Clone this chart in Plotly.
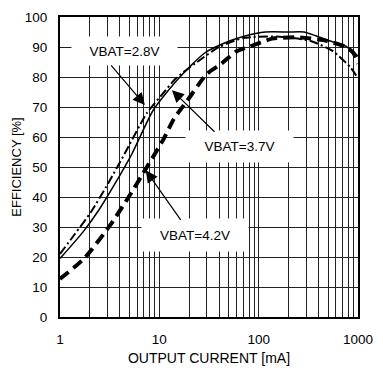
import math
import plotly.graph_objects as go

# ---- data ----
i_37 = [1, 1.7, 2.5, 3.6, 5.3, 8.7, 15.6, 28.6, 50, 70, 117, 200, 286, 524, 760, 1000]
e_37 = [19.5, 28.3, 36, 44.6, 54.4, 69, 79.5, 88, 91.9, 93.5, 95, 95, 95, 92, 90.2, 87]

i_28 = [1, 1.4, 2.04, 3.06, 4.47, 7.5, 11.2, 14.6, 22.9, 40, 70, 150, 333, 560, 850, 1000]
e_28 = [21, 27.5, 34.9, 44.6, 54.4, 68, 75, 79.5, 84.5, 90, 93, 93.5, 92, 88.6, 83, 79.5]

i_42 = [1, 1.75, 3.2, 5, 7.5, 10.9, 14, 19, 30, 42, 60, 82, 137, 250, 450, 760, 900, 1000]
e_42 = [12.7, 19.5, 30.6, 40.4, 50, 59, 66, 72, 81, 84.4, 88.6, 90.2, 92.8, 93.2, 92.3, 90, 88, 84.4]

x_tickvals = [m * 10 ** d for d in range(3) for m in range(1, 10)] + [1000]
x_ticktext = [str(v) if v in (1, 10, 100, 1000) else "" for v in x_tickvals]
y_tickvals = list(range(0, 101, 10))

labels = ["VBAT=2.8V", "VBAT=3.7V", "VBAT=4.2V"]

FONT = "Liberation Sans, Arial, sans-serif"

fig = go.Figure()
fig.add_trace(go.Scatter(x=i_37, y=e_37, mode="lines",
                         line=dict(color="black", width=1.5, shape="spline", smoothing=0.6),
                         showlegend=False))
fig.add_trace(go.Scatter(x=i_28, y=e_28, mode="lines",
                         line=dict(color="black", width=2, dash="9px,3px,2px,3px",
                                   shape="spline", smoothing=0.6),
                         showlegend=False))
fig.add_trace(go.Scatter(x=i_42, y=e_42, mode="lines",
                         line=dict(color="black", width=4, dash="11px,6px",
                                   shape="spline", smoothing=0.6),
                         showlegend=False))

# label boxes (white, covering grid)
boxes = [
    (labels[0], 4.5, 88.6, 103, 26),
    (labels[1], 63.5, 56.8, 105, 29),
    (labels[2], 22.9, 27.4, 104, 30),
]
for txt, bx, by, w, h in boxes:
    fig.add_annotation(x=math.log10(bx), y=by, xref="x", yref="y", text=txt,
                       showarrow=False, bgcolor="white", width=w, height=h,
                       xanchor="center", yanchor="middle",
                       font=dict(family=FONT, size=13.5, color="black"))

# arrows
arrows = [
    (7.15, 70.7, -35, -41),
    (13.4, 75.6, 44, 43),
    (7.3, 48.9, 36, 51),
]
for ax_i, ay_e, dx, dy in arrows:
    fig.add_annotation(x=math.log10(ax_i), y=ay_e, xref="x", yref="y", text="",
                       showarrow=True, ax=dx, ay=dy, arrowhead=2, arrowsize=2,
                       arrowwidth=1.2, arrowcolor="black")

fig.update_layout(
    width=383, height=374, autosize=False,
    margin=dict(l=60, r=14, t=10, b=57),
    paper_bgcolor="white", plot_bgcolor="white",
    font=dict(family=FONT, size=13, color="black"),
)
fig.update_xaxes(type="log", range=[0, 3], tickvals=x_tickvals, ticktext=x_ticktext,
                 showgrid=True, gridcolor="#222", gridwidth=1, ticks="",
                 showline=True, linecolor="black", linewidth=2, mirror=True,
                 zeroline=False, ticklabelstandoff=9, ticklabeloverflow="allow",
                 tickfont=dict(size=13.5),
                 title=dict(text="OUTPUT CURRENT [mA]", font=dict(size=14), standoff=7))
fig.update_yaxes(range=[0, 100], tickvals=y_tickvals,
                 showgrid=True, gridcolor="#222", gridwidth=1, ticks="",
                 showline=True, linecolor="black", linewidth=2, mirror=True,
                 zeroline=False, ticklabelstandoff=8,
                 tickfont=dict(size=13.5),
                 title=dict(text="EFFICIENCY [%]", font=dict(size=13), standoff=0))

fig.write_html("out.html")
